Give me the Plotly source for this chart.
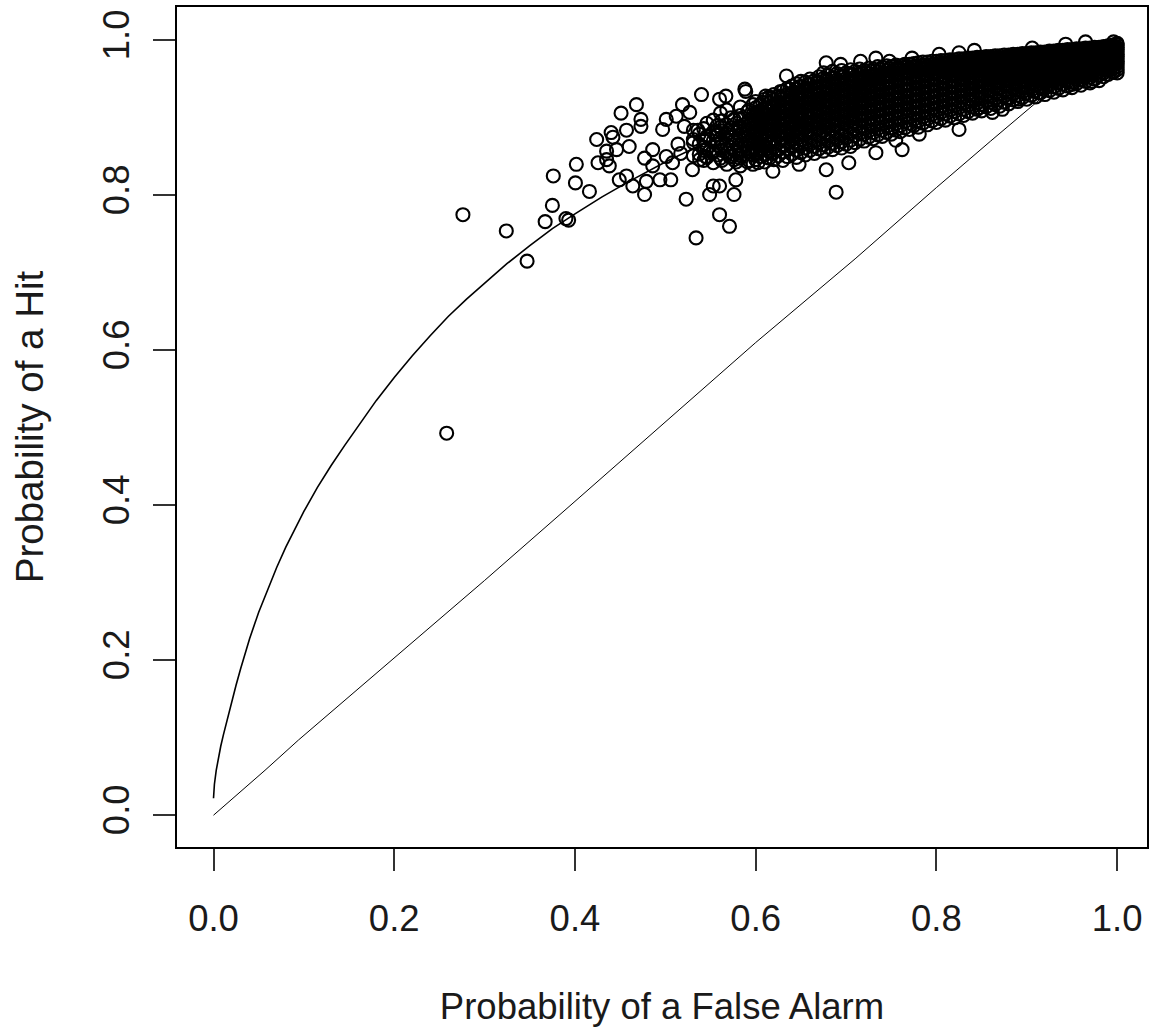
import plotly.graph_objects as go

# ---- reference curves ----
upper_fa = [0, 0.001, 0.003, 0.005, 0.008, 0.011, 0.015, 0.020, 0.025, 0.030, 0.035, 0.040,
            0.050, 0.060, 0.070, 0.080, 0.090, 0.100, 0.115, 0.130, 0.145, 0.160, 0.180, 0.200,
            0.220, 0.240, 0.260, 0.280, 0.300, 0.325, 0.350, 0.375, 0.400, 0.430, 0.460, 0.500,
            0.550, 0.600, 0.650, 0.700, 0.750, 0.800, 0.850, 0.900, 0.950, 1.000]
upper_hit = [0.022, 0.040, 0.058, 0.072, 0.089, 0.104, 0.123, 0.146, 0.168, 0.189, 0.209, 0.228,
             0.262, 0.292, 0.320, 0.346, 0.370, 0.392, 0.423, 0.451, 0.477, 0.502, 0.535, 0.565,
             0.593, 0.619, 0.644, 0.666, 0.687, 0.712, 0.735, 0.757, 0.776, 0.798, 0.818, 0.843,
             0.871, 0.896, 0.918, 0.937, 0.954, 0.968, 0.979, 0.988, 0.995, 1.000]

lower_fa = [0, 0.028, 0.057, 0.094, 0.146, 0.212, 0.300, 0.400, 0.500, 0.600, 0.710,
            0.800, 0.860, 0.910, 0.932, 0.960, 0.980, 1.000]
lower_hit = [0, 0.028, 0.058, 0.097, 0.149, 0.214, 0.303, 0.405, 0.507, 0.610, 0.718,
             0.810, 0.870, 0.920, 0.941, 0.966, 0.982, 1.000]

# ---- isolated observations ----
sparse_fa = [0.258, 0.276, 0.324, 0.347, 0.367, 0.375, 0.376, 0.390, 0.393, 0.4015, 0.4005, 0.416,
             0.424, 0.4255, 0.435, 0.440, 0.442, 0.451, 0.468, 0.457, 0.473, 0.473, 0.435, 0.446,
             0.460, 0.438, 0.449, 0.457, 0.464, 0.477, 0.479, 0.486, 0.497, 0.501, 0.512, 0.519,
             0.527, 0.521, 0.540, 0.501, 0.508, 0.494, 0.506, 0.486, 0.477, 0.523, 0.549, 0.576,
             0.560, 0.571, 0.534, 0.560, 0.578, 0.530, 0.538, 0.552, 0.571, 0.560, 0.567, 0.589,
             0.611, 0.689, 0.825, 0.678, 0.703, 0.762, 0.553, 0.619, 0.648, 0.733, 0.781, 0.755,
             0.847, 0.862, 0.873, 0.891, 0.913, 0.950, 0.972, 0.996, 0.545, 0.588, 0.634, 0.678,
             0.694, 0.716, 0.733, 0.748, 0.773, 0.803, 0.825, 0.842, 0.906, 0.943, 0.965, 0.996,
             0.514, 0.531, 0.543, 0.556, 0.517, 0.536]
sparse_hit = [0.493, 0.775, 0.754, 0.715, 0.766, 0.787, 0.825, 0.770, 0.768, 0.840, 0.816, 0.805,
              0.872, 0.842, 0.846, 0.881, 0.875, 0.906, 0.917, 0.884, 0.898, 0.889, 0.857, 0.859,
              0.863, 0.838, 0.820, 0.825, 0.812, 0.801, 0.818, 0.838, 0.885, 0.898, 0.902, 0.917,
              0.907, 0.889, 0.930, 0.850, 0.842, 0.820, 0.820, 0.859, 0.848, 0.795, 0.801, 0.801,
              0.775, 0.760, 0.745, 0.812, 0.820, 0.833, 0.846, 0.855, 0.850, 0.924, 0.928, 0.934,
              0.928, 0.804, 0.885, 0.833, 0.842, 0.859, 0.812, 0.831, 0.840, 0.855, 0.879, 0.871,
              0.913, 0.907, 0.911, 0.924, 0.932, 0.943, 0.947, 0.959, 0.850, 0.937, 0.954, 0.971,
              0.969, 0.973, 0.977, 0.973, 0.977, 0.982, 0.984, 0.987, 0.990, 0.995, 0.998, 0.998,
              0.866, 0.872, 0.862, 0.878, 0.854, 0.884]

# ---- dense cloud, one column of hit rates per false-alarm value ----
dense_fa = [0.531, 0.546, 0.553, 0.561, 0.568, 0.576, 0.583, 0.591, 0.597,
            0.600, 0.605, 0.610, 0.615, 0.620, 0.625, 0.630, 0.635, 0.640, 0.645, 0.650, 0.655,
            0.660, 0.665, 0.670, 0.675, 0.680, 0.685, 0.690, 0.695, 0.700, 0.705, 0.710, 0.715,
            0.720, 0.725, 0.730, 0.735, 0.740, 0.745, 0.750, 0.755, 0.760, 0.765, 0.770, 0.775,
            0.780, 0.785, 0.790, 0.795, 0.800, 0.805, 0.810, 0.815, 0.820, 0.825, 0.830, 0.835,
            0.840, 0.845, 0.850, 0.855, 0.860, 0.865, 0.870, 0.875, 0.880, 0.885, 0.890, 0.895,
            0.900, 0.905, 0.910, 0.915, 0.920, 0.925, 0.930, 0.935, 0.940, 0.945, 0.950, 0.955,
            0.960, 0.965, 0.970, 0.975, 0.980, 0.985, 0.990, 0.995, 1.000]
dense_hit = [
    [.851, .868, .884],
    [.849, .860, .876, .893],
    [.842, .857, .870, .882, .897],
    [.848, .862, .873, .888, .906],
    [.840, .855, .866, .879, .891, .910],
    [.846, .858, .871, .884, .898],
    [.838, .851, .864, .877, .889, .903, .914],
    [.843, .856, .869, .881, .894, .908],
    [.840, .852, .862, .875, .887, .900, .917],
    [.846, .853, .861, .872, .879, .888, .897, .905, .913, .921],
    [.850, .858, .866, .875, .884, .892, .901, .909, .917],
    [.843, .852, .863, .870, .880, .887, .896, .904, .913, .924],
    [.848, .856, .867, .877, .885, .893, .900, .910, .919, .927],
    [.846, .855, .862, .872, .881, .890, .898, .906, .915, .923, .930],
    [.851, .859, .868, .876, .886, .894, .903, .911, .920, .928],
    [.845, .856, .864, .873, .882, .889, .899, .907, .916, .925, .934],
    [.850, .860, .869, .879, .887, .895, .904, .913, .921, .930, .938],
    [.853, .862, .871, .880, .888, .897, .906, .914, .923, .932, .941],
    [.849, .858, .866, .876, .884, .893, .901, .911, .919, .928, .937, .944],
    [.855, .864, .872, .881, .890, .898, .907, .916, .924, .933, .940, .947],
    [.852, .861, .869, .878, .887, .895, .904, .913, .921, .929, .938, .946],
    [.858, .866, .875, .883, .892, .901, .909, .918, .926, .935, .943, .950],
    [.854, .863, .871, .880, .889, .897, .906, .915, .923, .932, .940, .948],
    [.860, .868, .877, .886, .894, .903, .911, .920, .929, .937, .946, .953],
    [.857, .865, .874, .883, .891, .900, .908, .917, .926, .934, .943, .951, .958],
    [.862, .870, .879, .888, .896, .905, .913, .922, .931, .939, .948, .955],
    [.859, .867, .876, .884, .893, .902, .910, .919, .927, .936, .944, .952, .960],
    [.864, .872, .881, .890, .898, .907, .915, .924, .932, .941, .949, .957],
    [.861, .869, .878, .886, .895, .904, .912, .921, .929, .938, .946, .954, .961],
    [.866, .874, .883, .892, .900, .909, .917, .926, .934, .943, .951, .958],
    [.863, .871, .880, .889, .897, .906, .914, .923, .931, .940, .948, .956, .962],
    [.868, .877, .885, .894, .902, .911, .919, .928, .936, .945, .953, .960],
    [.872, .880, .888, .897, .905, .914, .922, .931, .939, .948, .955, .963],
    [.870, .879, .887, .896, .904, .913, .921, .930, .938, .947, .954, .961],
    [.875, .883, .892, .900, .909, .917, .926, .934, .942, .950, .957, .964],
    [.873, .881, .890, .898, .907, .915, .924, .932, .941, .949, .956, .963],
    [.878, .886, .895, .903, .911, .920, .928, .937, .945, .952, .959, .966],
    [.876, .884, .893, .901, .910, .918, .927, .935, .943, .951, .958, .965],
    [.881, .889, .897, .906, .914, .923, .931, .939, .947, .954, .961, .967],
    [.879, .887, .896, .904, .913, .921, .929, .938, .946, .953, .960, .966],
    [.884, .892, .900, .909, .917, .925, .934, .942, .950, .957, .963, .968],
    [.882, .890, .899, .907, .916, .924, .932, .940, .948, .955, .962, .967],
    [.887, .895, .903, .912, .920, .928, .936, .944, .952, .959, .965, .969],
    [.885, .893, .902, .910, .918, .926, .935, .943, .951, .958, .964, .969],
    [.890, .898, .906, .914, .922, .931, .939, .947, .954, .961, .966, .970],
    [.888, .896, .905, .913, .921, .929, .937, .945, .953, .960, .966, .971],
    [.893, .901, .909, .917, .925, .933, .941, .949, .956, .962, .968, .972],
    [.891, .899, .907, .915, .923, .931, .939, .947, .955, .961, .967, .972],
    [.896, .904, .912, .920, .928, .936, .944, .951, .958, .964, .969, .973],
    [.894, .902, .910, .918, .926, .934, .942, .950, .957, .963, .968, .973],
    [.899, .907, .915, .923, .931, .939, .946, .953, .960, .966, .971, .974],
    [.897, .905, .913, .921, .929, .937, .945, .952, .959, .965, .970, .974],
    [.902, .910, .918, .926, .933, .941, .948, .955, .961, .967, .972, .975],
    [.900, .908, .916, .924, .932, .940, .947, .954, .960, .966, .971, .975],
    [.905, .913, .921, .929, .936, .944, .951, .958, .964, .969, .973, .976],
    [.903, .911, .919, .927, .935, .942, .949, .956, .962, .968, .972, .976],
    [.908, .916, .924, .931, .939, .946, .953, .959, .965, .970, .974, .977],
    [.906, .914, .922, .930, .937, .944, .951, .958, .964, .969, .973, .977],
    [.911, .919, .926, .934, .941, .948, .955, .961, .967, .971, .975, .978],
    [.909, .917, .925, .932, .940, .947, .954, .960, .966, .971, .975, .978],
    [.914, .922, .929, .937, .944, .951, .957, .963, .968, .973, .976, .979],
    [.912, .920, .928, .935, .942, .949, .956, .962, .967, .972, .976, .979],
    [.917, .925, .932, .940, .947, .953, .959, .965, .970, .974, .977, .980],
    [.915, .923, .931, .938, .945, .952, .958, .964, .969, .973, .977, .980],
    [.920, .928, .935, .942, .949, .955, .961, .967, .971, .975, .978, .981],
    [.918, .926, .933, .941, .948, .954, .960, .966, .971, .975, .979, .981],
    [.923, .931, .938, .945, .951, .957, .963, .968, .973, .977, .980, .982],
    [.921, .929, .936, .943, .950, .956, .962, .967, .972, .976, .979, .982],
    [.926, .933, .940, .947, .953, .959, .965, .970, .974, .978, .981, .983],
    [.924, .932, .939, .946, .952, .958, .964, .969, .973, .977, .980, .983],
    [.929, .936, .943, .949, .955, .961, .966, .971, .975, .979, .982, .984],
    [.927, .935, .942, .948, .954, .960, .965, .970, .974, .978, .981, .984],
    [.932, .939, .945, .951, .957, .963, .968, .972, .976, .980, .983, .985],
    [.930, .938, .944, .950, .956, .962, .967, .971, .975, .979, .982, .985],
    [.935, .942, .948, .954, .959, .964, .969, .973, .977, .981, .984, .986],
    [.933, .940, .947, .953, .958, .963, .968, .972, .976, .980, .983, .986],
    [.938, .945, .951, .956, .961, .966, .970, .974, .978, .982, .985, .987],
    [.936, .943, .949, .955, .960, .965, .969, .974, .978, .981, .984, .987],
    [.941, .947, .953, .958, .963, .968, .972, .976, .980, .983, .986, .988],
    [.939, .946, .952, .957, .962, .967, .971, .975, .979, .982, .985, .988],
    [.944, .950, .955, .960, .965, .969, .973, .977, .981, .984, .987, .989],
    [.942, .949, .954, .959, .964, .968, .972, .976, .980, .983, .986, .989],
    [.947, .953, .958, .963, .967, .971, .975, .979, .982, .985, .988, .990],
    [.945, .952, .957, .962, .966, .970, .974, .978, .981, .984, .987, .990],
    [.950, .956, .961, .965, .969, .973, .977, .980, .983, .986, .989, .991],
    [.948, .955, .960, .964, .968, .972, .976, .979, .982, .985, .988, .991],
    [.953, .958, .963, .967, .971, .975, .978, .981, .984, .987, .990, .992],
    [.956, .961, .965, .969, .973, .976, .979, .982, .985, .988, .991, .993],
    [.959, .963, .967, .971, .974, .977, .980, .983, .986, .989, .992, .994],
    [.958, .962, .966, .970, .973, .976, .979, .982, .985, .988, .991, .994, .996],
]

# ---- core of the cloud, interleaved columns ----
core_fa = [0.5375, 0.5425, 0.5575, 0.5625, 0.5725, 0.5785, 0.5825, 0.5875, 0.5925, 0.5975,
           0.6025, 0.6075, 0.6125, 0.6175,
           0.6275, 0.6375, 0.6475, 0.6575, 0.6675, 0.6775, 0.6875, 0.6975, 0.7075, 0.7175,
           0.7275, 0.7375, 0.7475, 0.7575, 0.7675, 0.7775, 0.7875, 0.7975, 0.8075, 0.8175,
           0.8275, 0.8375, 0.8475, 0.8575, 0.8675, 0.8775, 0.8875, 0.8975, 0.9075, 0.9175,
           0.9275, 0.9375, 0.9475, 0.9575, 0.9675, 0.9775, 0.9875, 0.9975]
core_hit = [
    [.853, .866, .879],
    [.845, .858, .871, .886],
    [.852, .865, .878, .890],
    [.845, .858, .870, .883, .896],
    [.850, .862, .875, .887, .900],
    [.843, .856, .868, .881, .893],
    [.848, .860, .873, .886, .899],
    [.865, .878, .891],
    [.845, .857, .870, .884, .897, .910],
    [.868, .880, .893, .905],
    [.842, .856, .868, .882, .894, .907],
    [.866, .875, .887, .898, .911, .920],
    [.849, .861, .874, .886, .899, .912],
    [.869, .878, .890, .902, .914, .925],
    [.872, .881, .890, .899, .908, .917, .926, .934],
    [.876, .885, .893, .902, .911, .920, .929, .937],
    [.879, .888, .897, .906, .915, .923, .932, .940],
    [.882, .891, .900, .909, .917, .926, .935, .943],
    [.885, .894, .902, .911, .920, .929, .938, .946],
    [.888, .897, .905, .914, .923, .932, .941, .949],
    [.890, .899, .908, .917, .926, .934, .943, .951],
    [.893, .902, .911, .920, .928, .937, .946, .954],
    [.895, .904, .913, .922, .931, .940, .949, .956],
    [.898, .907, .916, .925, .934, .943, .951, .958],
    [.900, .909, .918, .927, .936, .945, .953, .960],
    [.903, .912, .921, .930, .939, .947, .955, .962],
    [.906, .915, .924, .933, .941, .949, .957, .963],
    [.909, .918, .927, .935, .943, .951, .958, .964],
    [.912, .921, .929, .937, .945, .953, .960, .966],
    [.914, .923, .931, .939, .947, .955, .961, .967],
    [.917, .925, .933, .941, .949, .956, .963, .968],
    [.919, .927, .935, .943, .951, .958, .964, .969],
    [.922, .930, .938, .946, .953, .960, .966, .970],
    [.924, .932, .940, .948, .955, .961, .967, .971],
    [.927, .935, .942, .950, .957, .963, .968, .972],
    [.929, .937, .945, .952, .959, .965, .970, .974],
    [.932, .940, .947, .954, .961, .966, .971, .975],
    [.935, .942, .949, .956, .962, .968, .972, .976],
    [.938, .945, .952, .958, .964, .969, .974, .977],
    [.941, .948, .954, .960, .966, .971, .975, .978],
    [.944, .950, .956, .962, .967, .972, .976, .979],
    [.947, .953, .959, .964, .969, .974, .977, .980],
    [.950, .956, .961, .966, .971, .975, .978, .981],
    [.953, .958, .963, .968, .972, .976, .979, .982],
    [.955, .960, .965, .970, .974, .978, .981, .983],
    [.958, .963, .967, .972, .976, .979, .982, .984],
    [.960, .965, .969, .973, .977, .980, .983, .985],
    [.963, .967, .971, .975, .978, .981, .984, .986],
    [.965, .969, .973, .977, .980, .983, .985, .987],
    [.967, .971, .975, .978, .981, .984, .986, .988],
    [.969, .973, .977, .980, .983, .986, .988, .990],
    [.971, .975, .979, .982, .985, .987, .990, .992],
]

tick_vals = [0.0, 0.2, 0.4, 0.6, 0.8, 1.0]
tick_text = ["0.0", "0.2", "0.4", "0.6", "0.8", "1.0"]

# ---- assemble point cloud ----
pts_x = list(sparse_fa)
pts_y = list(sparse_hit)
for cols_fa, cols_hit in ((dense_fa, dense_hit), (core_fa, core_hit)):
    for fa, col in zip(cols_fa, cols_hit):
        for h in col:
            pts_x.append(fa)
            pts_y.append(h)

FONT = "Liberation Sans, Arial, sans-serif"
TXT = "#1a1a1a"
FS = 36.5

fig = go.Figure()
fig.add_trace(go.Scatter(x=upper_fa, y=upper_hit, mode="lines",
                         line=dict(color="black", width=1.6), hoverinfo="skip"))
fig.add_trace(go.Scatter(x=lower_fa, y=lower_hit, mode="lines",
                         line=dict(color="black", width=1.0), hoverinfo="skip"))
fig.add_trace(go.Scatter(x=pts_x, y=pts_y, mode="markers",
                         marker=dict(symbol="circle-open", size=13, color="black",
                                     line=dict(width=2.1))))

axis_common = dict(
    showgrid=False, zeroline=False,
    showline=True, linecolor="black", linewidth=1.5, mirror=True,
    ticks="outside", ticklen=22, tickwidth=1.5, tickcolor="#333333",
    tickvals=tick_vals, ticktext=tick_text,
    tickfont=dict(family=FONT, size=FS, color=TXT),
)

fig.update_layout(
    width=1152, height=1032,
    margin=dict(l=177, r=3, t=7, b=185),
    paper_bgcolor="white", plot_bgcolor="white",
    showlegend=False,
    font=dict(family=FONT, size=FS, color=TXT),
    xaxis=dict(range=[-0.0404, 1.033],
               title=dict(text="Probability of a False Alarm", standoff=56,
                          font=dict(family=FONT, size=FS, color=TXT)),
               ticklabelstandoff=16, **axis_common),
    yaxis=dict(range=[-0.041, 1.043], tickangle=-90,
               title=dict(text="Probability of a Hit", standoff=40,
                          font=dict(family=FONT, size=38.5, color=TXT)),
               ticklabelstandoff=10, **axis_common),
)

fig.write_html("out.html")
